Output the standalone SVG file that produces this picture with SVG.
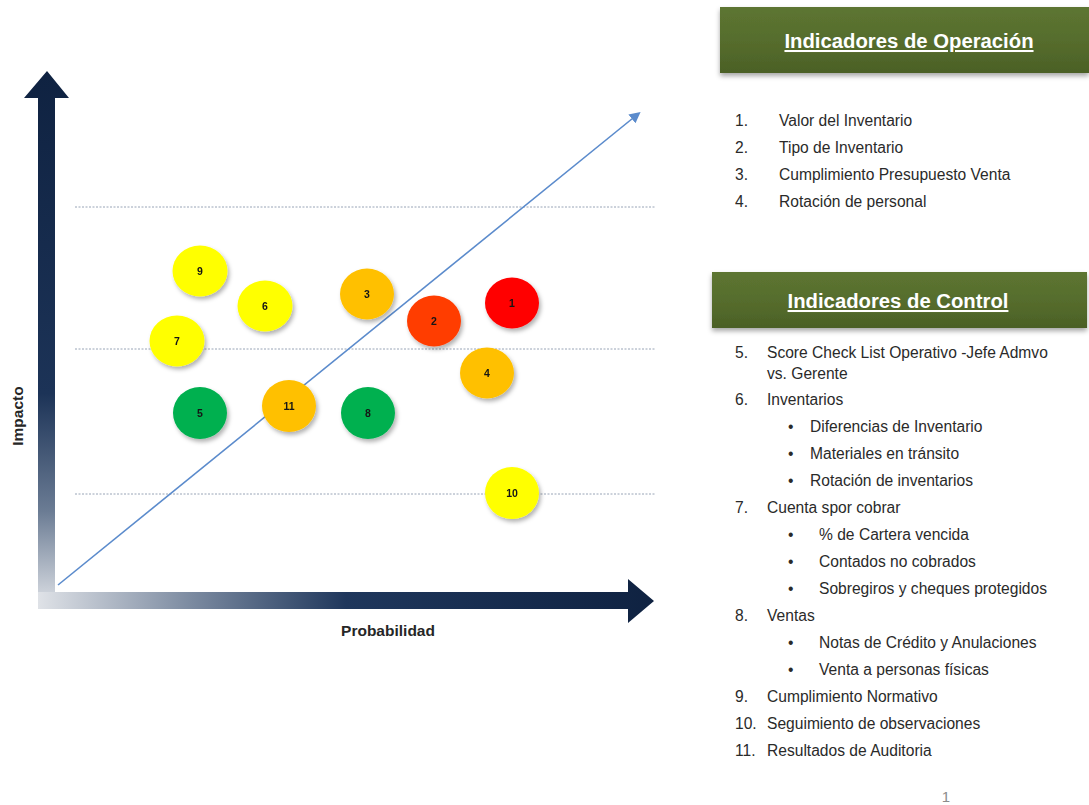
<svg xmlns="http://www.w3.org/2000/svg" width="1089" height="805" viewBox="0 0 1089 805">
  <defs>
    <style>
      .num { font-family: "Liberation Sans", Arial, sans-serif; font-weight: bold; font-size: 10.5px; fill: #141414; text-anchor: middle; }
      .axis { font-family: "Liberation Sans", Arial, sans-serif; font-weight: bold; font-size: 15.5px; fill: #262626; }
      .head { font-family: "Liberation Sans", Arial, sans-serif; font-weight: bold; font-size: 20.3px; fill: #ffffff; text-anchor: middle; text-decoration: underline; }
      .item { font-family: "Liberation Sans", Arial, sans-serif; font-size: 15.6px; fill: #2a2a2a; }
      .grid { stroke: #7d8da3; stroke-width: 0.8; stroke-dasharray: 2 1.5; fill: none; }
      .trend { stroke: #5b8bcc; stroke-width: 1.6; fill: none; }
      .yellow { fill: #ffff00; }
      .orange { fill: #ffc000; }
      .red { fill: #ff0000; }
      .redorange { fill: #ff3c00; }
      .green { fill: #00b050; }
    </style>
    <linearGradient id="vGrad" x1="0" y1="71" x2="0" y2="608" gradientUnits="userSpaceOnUse">
      <stop offset="0" stop-color="#0f2241"/>
      <stop offset="0.6" stop-color="#1c3357"/>
      <stop offset="0.82" stop-color="#6b7c94"/>
      <stop offset="1" stop-color="#dfe2e7"/>
    </linearGradient>
    <linearGradient id="hGrad" x1="38" y1="0" x2="654" y2="0" gradientUnits="userSpaceOnUse">
      <stop offset="0" stop-color="#dfe2e7"/>
      <stop offset="0.25" stop-color="#7b8aa0"/>
      <stop offset="0.5" stop-color="#1f375c"/>
      <stop offset="1" stop-color="#0f2241"/>
    </linearGradient>
    <linearGradient id="boxGrad" x1="0" y1="0" x2="0" y2="1">
      <stop offset="0" stop-color="#5d7531"/>
      <stop offset="0.5" stop-color="#566d2d"/>
      <stop offset="1" stop-color="#4b6026"/>
    </linearGradient>
    <filter id="shadow" x="-30%" y="-30%" width="160%" height="170%">
      <feDropShadow dx="2" dy="3" stdDeviation="2" flood-color="#000" flood-opacity="0.3"/>
    </filter>
    <filter id="boxShadow" x="-10%" y="-20%" width="120%" height="150%">
      <feDropShadow dx="0" dy="3" stdDeviation="2.5" flood-color="#000" flood-opacity="0.35"/>
    </filter>
    <marker id="tip" viewBox="0 0 10 10" refX="7" refY="5" markerWidth="7" markerHeight="7" orient="auto" markerUnits="strokeWidth">
      <path d="M0,0 L10,5 L0,10 z" fill="#5b8bcc"/>
    </marker>
  </defs>

  <rect width="1089" height="805" fill="#ffffff"/>

  <!-- axes -->
  <g id="axes">
    <path d="M47,71 L69,98 L55,98 L55,592 L38,592 L38,98 L24,98 z" fill="url(#vGrad)"/>
    <path d="M38,592 L628,592 L628,579 L654,601 L628,623 L628,609 L38,609 z" fill="url(#hGrad)"/>
    <text class="axis" transform="translate(23,416) rotate(-90)" text-anchor="middle">Impacto</text>
    <text class="axis" x="388" y="636" text-anchor="middle">Probabilidad</text>
  </g>

  <!-- impact bands and trend -->
  <g id="connectors">
    <line class="grid" x1="75" y1="207" x2="656" y2="207"/>
    <line class="grid" x1="75" y1="349" x2="656" y2="349"/>
    <line class="grid" x1="75" y1="494" x2="656" y2="494"/>
    <line class="trend" x1="58" y1="585" x2="638" y2="114" marker-end="url(#tip)"/>
  </g>

  <!-- risk points -->
  <g id="n9" filter="url(#shadow)"><ellipse class="yellow" cx="200" cy="271" rx="27.5" ry="25.5"/><text class="num" x="200" y="275">9</text></g>
  <g id="n6" filter="url(#shadow)"><ellipse class="yellow" cx="265" cy="306" rx="27.5" ry="25.5"/><text class="num" x="265" y="310">6</text></g>
  <g id="n7" filter="url(#shadow)"><ellipse class="yellow" cx="177" cy="341" rx="27.5" ry="25.5"/><text class="num" x="177" y="345">7</text></g>
  <g id="n3" filter="url(#shadow)"><ellipse class="orange" cx="367" cy="294" rx="27" ry="25.5"/><text class="num" x="367" y="298">3</text></g>
  <g id="n2" filter="url(#shadow)"><ellipse class="redorange" cx="434" cy="321" rx="27" ry="25.5"/><text class="num" x="434" y="325">2</text></g>
  <g id="n1" filter="url(#shadow)"><ellipse class="red" cx="512" cy="303" rx="27" ry="25.5"/><text class="num" x="512" y="307">1</text></g>
  <g id="n4" filter="url(#shadow)"><ellipse class="orange" cx="487" cy="373" rx="27" ry="25.5"/><text class="num" x="487" y="377">4</text></g>
  <g id="n5" filter="url(#shadow)"><ellipse class="green" cx="200" cy="413" rx="27" ry="26"/><text class="num" x="200" y="417">5</text></g>
  <g id="n11" filter="url(#shadow)"><ellipse class="orange" cx="289" cy="406" rx="27" ry="26"/><text class="num" x="289" y="410">11</text></g>
  <g id="n8" filter="url(#shadow)"><ellipse class="green" cx="368" cy="413" rx="27" ry="26"/><text class="num" x="368" y="417">8</text></g>
  <g id="n10" filter="url(#shadow)"><ellipse class="yellow" cx="512" cy="493" rx="27" ry="26"/><text class="num" x="512" y="497">10</text></g>

  <!-- operation indicators -->
  <g id="operacion">
    <rect x="720" y="7" width="369" height="66" fill="url(#boxGrad)" filter="url(#boxShadow)"/>
    <text class="head" x="909" y="48">Indicadores de Operación</text>
    <text class="item" x="735" y="126">1.</text><text class="item" x="779" y="126">Valor del Inventario</text>
    <text class="item" x="735" y="153">2.</text><text class="item" x="779" y="153">Tipo de Inventario</text>
    <text class="item" x="735" y="180">3.</text><text class="item" x="779" y="180">Cumplimiento Presupuesto Venta</text>
    <text class="item" x="735" y="207">4.</text><text class="item" x="779" y="207">Rotación de personal</text>
  </g>

  <!-- control indicators -->
  <g id="control">
    <rect x="712" y="272" width="375" height="56" fill="url(#boxGrad)" filter="url(#boxShadow)"/>
    <text class="head" x="898" y="308">Indicadores de Control</text>
    <text class="item" x="735" y="358">5.</text><text class="item" x="767" y="358">Score Check List Operativo -Jefe Admvo</text>
    <text class="item" x="767" y="379">vs. Gerente</text>
    <text class="item" x="735" y="405">6.</text><text class="item" x="767" y="405">Inventarios</text>
    <text class="item" x="788" y="432">•</text><text class="item" x="810" y="432">Diferencias de Inventario</text>
    <text class="item" x="788" y="459">•</text><text class="item" x="810" y="459">Materiales en tránsito</text>
    <text class="item" x="788" y="486">•</text><text class="item" x="810" y="486">Rotación de inventarios</text>
    <text class="item" x="735" y="513">7.</text><text class="item" x="767" y="513">Cuenta spor cobrar</text>
    <text class="item" x="788" y="540">•</text><text class="item" x="819" y="540">% de Cartera vencida</text>
    <text class="item" x="788" y="567">•</text><text class="item" x="819" y="567">Contados no cobrados</text>
    <text class="item" x="788" y="594">•</text><text class="item" x="819" y="594">Sobregiros y cheques protegidos</text>
    <text class="item" x="735" y="621">8.</text><text class="item" x="767" y="621">Ventas</text>
    <text class="item" x="788" y="648">•</text><text class="item" x="819" y="648">Notas de Crédito y Anulaciones</text>
    <text class="item" x="788" y="675">•</text><text class="item" x="819" y="675">Venta a personas físicas</text>
    <text class="item" x="735" y="702">9.</text><text class="item" x="767" y="702">Cumplimiento Normativo</text>
    <text class="item" x="735" y="729">10.</text><text class="item" x="767" y="729">Seguimiento de observaciones</text>
    <text class="item" x="735" y="756">11.</text><text class="item" x="767" y="756">Resultados de Auditoria</text>
  </g>

  <text x="946" y="802" font-family="Liberation Sans, Arial, sans-serif" font-size="15px" fill="#8c8c8c" text-anchor="middle">1</text>
</svg>
